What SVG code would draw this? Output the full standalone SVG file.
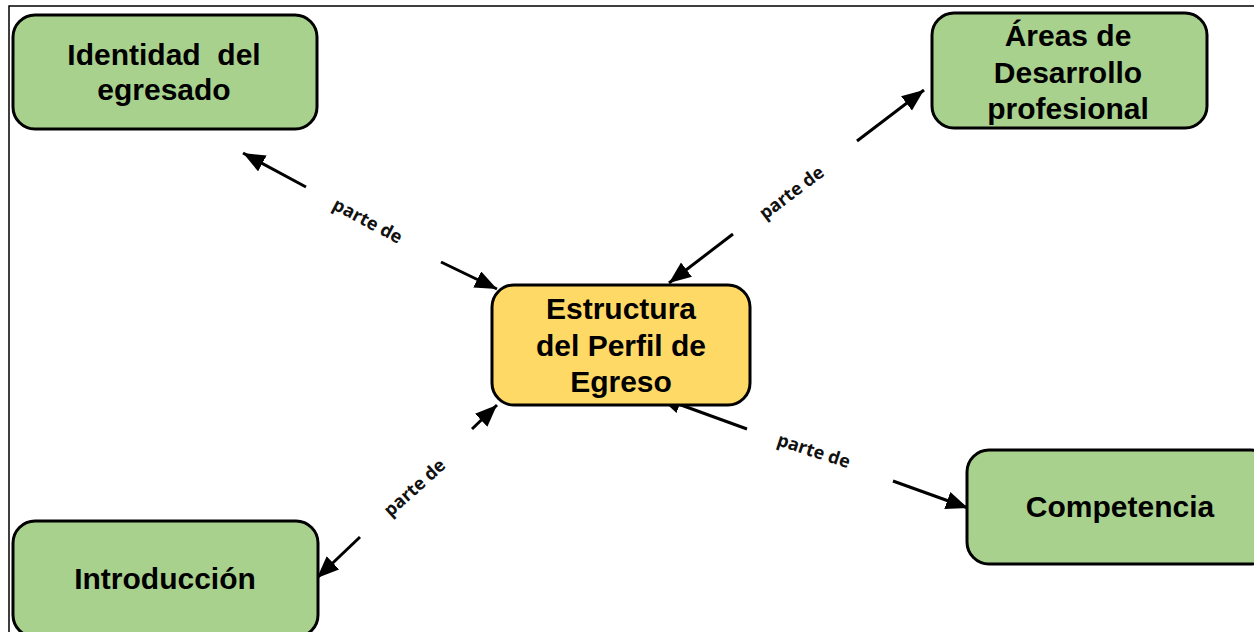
<svg xmlns="http://www.w3.org/2000/svg" width="1254" height="632" viewBox="0 0 1254 632">
<defs>
<style>
.frame{fill:none;stroke:#000;stroke-width:1.5}
.green{fill:#A9D18E;stroke:#000;stroke-width:3}
.yellow{fill:#FFD966;stroke:#000;stroke-width:3}
.t{font-family:"Liberation Sans",Arial,sans-serif;font-weight:bold;font-size:30px;fill:#000;text-anchor:middle}
.conn{stroke:#000;stroke-width:3;fill:none;marker-end:url(#ah)}
.lb{font-family:"Open Sans","Noto Sans",sans-serif;font-weight:bold;font-size:18px;fill:#111;text-anchor:middle;dominant-baseline:central}
</style>
<marker id="ah" markerUnits="userSpaceOnUse" markerWidth="24" markerHeight="20" refX="22" refY="9" orient="auto">
<path d="M0,0 L22,9 L0,18 Z" fill="#000"/>
</marker>
</defs>
<rect width="1254" height="632" fill="#fff"/>
<path class="frame" d="M9,632 V6 H1254"/>
<g id="connectors">
<line class="conn" x1="306" y1="187" x2="243" y2="153"/>
<line class="conn" x1="441" y1="262" x2="497" y2="289"/>
<line class="conn" x1="857" y1="141" x2="924" y2="90"/>
<line class="conn" x1="733" y1="234" x2="669" y2="283"/>
<line class="conn" x1="472" y1="429" x2="497" y2="405"/>
<line class="conn" x1="360" y1="537" x2="317" y2="578"/>
<line class="conn" x1="747" y1="429" x2="659" y2="397"/>
<line class="conn" x1="893" y1="481" x2="968" y2="508"/>
<g transform="translate(368,220) rotate(28)"><text class="lb" x="0" y="0">parte de</text></g>
<g transform="translate(791,192) rotate(-37)"><text class="lb" x="0" y="0">parte de</text></g>
<g transform="translate(414,487) rotate(-42)"><text class="lb" x="0" y="0">parte de</text></g>
<g transform="translate(814,450) rotate(18)"><text class="lb" x="0" y="0">parte de</text></g>
</g>
<g id="identidad">
<rect class="green" x="13" y="15" width="304" height="114" rx="22"/>
<text class="t" x="164" y="65" xml:space="preserve">Identidad  del</text>
<text class="t" x="164" y="100">egresado</text>
</g>
<g id="areas">
<rect class="green" x="932" y="13" width="275" height="115" rx="22"/>
<text class="t" x="1068" y="46">Áreas de</text>
<text class="t" x="1068" y="83">Desarrollo</text>
<text class="t" x="1068" y="119">profesional</text>
</g>
<g id="estructura">
<rect class="yellow" x="492" y="285" width="258" height="120" rx="22"/>
<text class="t" x="621" y="319">Estructura</text>
<text class="t" x="621" y="356">del Perfil de</text>
<text class="t" x="621" y="392">Egreso</text>
</g>
<g id="competencia">
<rect class="green" x="967" y="450" width="306" height="114" rx="22"/>
<text class="t" x="1120" y="517">Competencia</text>
</g>
<g id="introduccion">
<rect class="green" x="13" y="521" width="305" height="116" rx="22"/>
<text class="t" x="165" y="589">Introducción</text>
</g>
</svg>
